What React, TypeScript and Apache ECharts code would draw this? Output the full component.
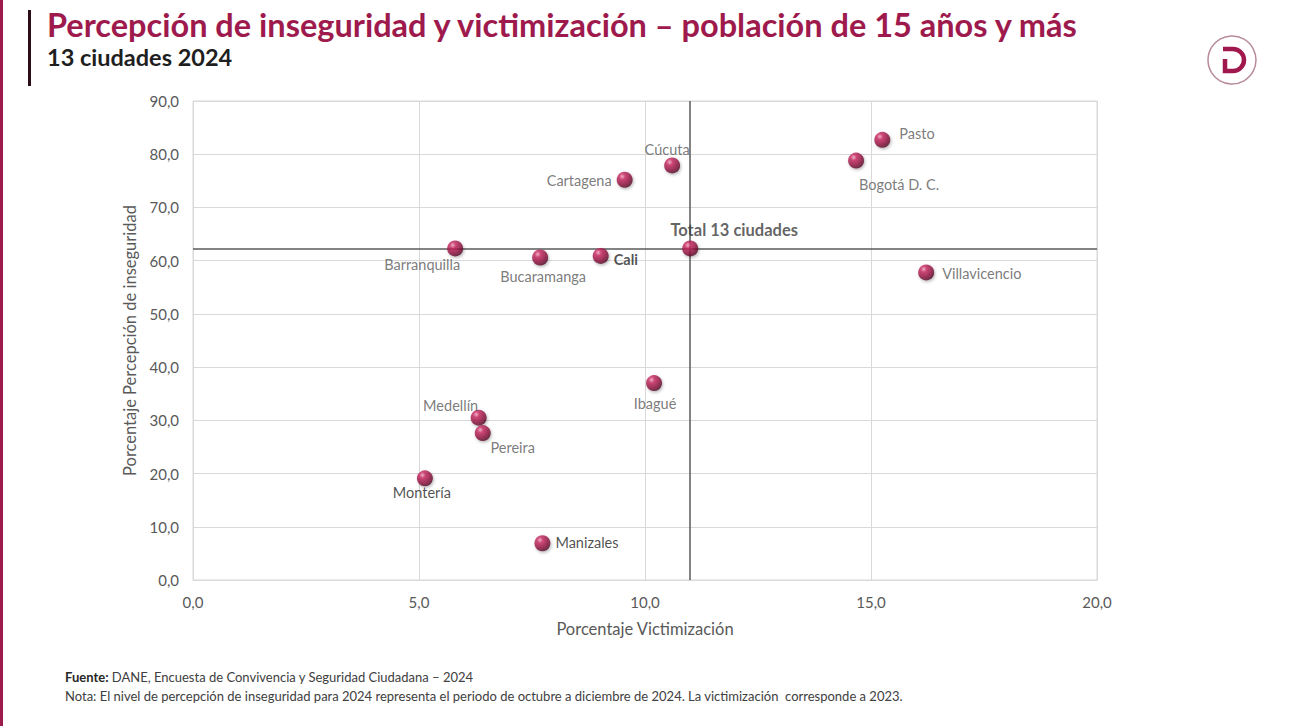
import React, { useEffect, useRef } from "react";
import * as echarts from "echarts";

const cities = [
  "Pasto", "Bogotá D. C.", "Cúcuta", "Cartagena", "Total 13 ciudades", "Barranquilla",
  "Bucaramanga", "Cali", "Villavicencio", "Ibagué", "Medellín", "Pereira", "Montería", "Manizales",
];
const victimizacion = [15.25, 14.67, 10.6, 9.55, 11.0, 5.8, 7.68, 9.02, 16.22, 10.2, 6.32, 6.41, 5.13, 7.73];
const percepcion = [82.7, 78.8, 77.9, 75.2, 62.3, 62.3, 60.6, 60.9, 57.8, 37.0, 30.5, 27.6, 19.1, 6.9];
const xTicks = [0, 5, 10, 15, 20];
const yTicks = [0, 10, 20, 30, 40, 50, 60, 70, 80, 90];
const totalName = "Total 13 ciudades";

const FONT = "Lato, 'Noto Sans', sans-serif";
const MAROON = "#9e1a4d";

const labelCfg: Record<string, any> = {
  "Pasto": { position: "right", offset: [4, -6] },
  "Bogotá D. C.": { position: "bottom", offset: [43, 3] },
  "Cúcuta": { position: "top", offset: [-5, 5] },
  "Cartagena": { position: "left", offset: [0, 1] },
  "Total 13 ciudades": { position: "top", offset: [44, 3], fontWeight: "bold", color: "#3a3a3a", fontSize: 16.5 },
  "Barranquilla": { position: "bottom", offset: [-33, -4] },
  "Bucaramanga": { position: "bottom", offset: [3, -1] },
  "Cali": { position: "right", offset: [0, 4], fontWeight: "bold", color: "#262626" },
  "Villavicencio": { position: "right", offset: [3, 1] },
  "Ibagué": { position: "bottom", offset: [1, 0] },
  "Medellín": { position: "top", offset: [-28, 8] },
  "Pereira": { position: "bottom", offset: [30, -6] },
  "Montería": { position: "bottom", offset: [-3, -6], color: "#1f1f1f" },
  "Manizales": { position: "right", offset: [0, -1], color: "#1f1f1f" },
};

const fmt = (v: number) => v.toFixed(1).replace(".", ",");

const logoD = "M1 1 L11 1 A11 11 0 0 1 11 23 L3 23 L3 11";

export default function App() {
  const ref = useRef<HTMLDivElement>(null);
  useEffect(() => {
    if (!ref.current) return;
    echarts.graphic.registerShape("logoD", echarts.graphic.extendPath(logoD, {}) as any);
    const chart = echarts.init(ref.current, null, { renderer: "svg" });
    const sphere = new echarts.graphic.RadialGradient(0.35, 0.3, 0.75, [
      { offset: 0, color: "#f4a6c4" },
      { offset: 0.25, color: "#c8275f" },
      { offset: 0.7, color: "#8a0f3c" },
      { offset: 1, color: "#4a0620" },
    ]);
    const data = cities.map((c, i) => {
      const l = labelCfg[c] || {};
      return {
        name: c,
        value: [victimizacion[i], percepcion[i]],
        label: {
          show: true,
          formatter: c,
          position: l.position,
          offset: l.offset,
          distance: 5,
          fontSize: l.fontSize || 14.5,
          fontWeight: l.fontWeight || "normal",
          color: l.color || "#595959",
          fontFamily: FONT,
        },
      };
    });
    const ti = cities.indexOf(totalName);
    chart.setOption({
      animation: false,
      grid: { left: 193, top: 101, width: 904, height: 479, show: true, borderColor: "#d9d9d9", borderWidth: 1 },
      xAxis: {
        type: "value",
        min: xTicks[0],
        max: xTicks[xTicks.length - 1],
        interval: xTicks[1] - xTicks[0],
        name: "Porcentaje Victimización",
        nameLocation: "middle",
        nameGap: 40,
        nameTextStyle: { fontSize: 16.5, color: "#595959", fontFamily: FONT },
        axisLine: { lineStyle: { color: "#d9d9d9" } },
        axisTick: { show: false },
        splitLine: { lineStyle: { color: "#d9d9d9" } },
        axisLabel: { formatter: fmt, fontSize: 15, color: "#595959", fontFamily: FONT, margin: 14 },
      },
      yAxis: {
        type: "value",
        min: yTicks[0],
        max: yTicks[yTicks.length - 1],
        interval: yTicks[1] - yTicks[0],
        name: "Porcentaje Percepción de inseguridad",
        nameLocation: "middle",
        nameGap: 54,
        nameTextStyle: { fontSize: 16.5, color: "#595959", fontFamily: FONT },
        axisLine: { show: true, lineStyle: { color: "#d9d9d9" } },
        axisTick: { show: false },
        splitLine: { lineStyle: { color: "#d9d9d9" } },
        axisLabel: { formatter: fmt, fontSize: 15, color: "#595959", fontFamily: FONT, margin: 14 },
      },
      series: [
        {
          type: "scatter",
          symbolSize: 16,
          data,
          itemStyle: { color: sphere, shadowColor: "rgba(0,0,0,0.35)", shadowBlur: 3, shadowOffsetX: 1, shadowOffsetY: 1.5 },
          z: 5,
          markLine: {
            silent: true,
            symbol: "none",
            label: { show: false },
            lineStyle: { color: "#5a5a5a", width: 1.5, type: "solid" },
            data: [{ xAxis: victimizacion[ti] }, { yAxis: percepcion[ti] }],
          },
        },
      ],
      graphic: [
        { type: "rect", left: 0, top: 0, shape: { width: 3, height: 726 }, style: { fill: MAROON } },
        { type: "rect", left: 28, top: 10, shape: { width: 3, height: 76 }, style: { fill: "#2a0d18" } },
        {
          type: "text", left: 47, top: 8,
          style: { text: "Percepción de inseguridad y victimización – población de 15 años y más", fontSize: 32.5, fontWeight: "bold", fill: MAROON, fontFamily: FONT },
        },
        {
          type: "text", left: 47, top: 45,
          style: { text: "13 ciudades 2024", fontSize: 23.5, fontWeight: "bold", fill: "#1f1f1f", fontFamily: FONT },
        },
        { type: "circle", shape: { cx: 1232, cy: 60, r: 24 }, style: { fill: "#fff", stroke: "#b98a9c", lineWidth: 1.5 } },
        { type: "logoD", x: 1222, y: 48, style: { fill: "none", stroke: "#a0184e", lineWidth: 4.5 } },
        {
          type: "text", left: 65, top: 670,
          style: {
            text: "{b|Fuente:} DANE, Encuesta de Convivencia y Seguridad Ciudadana – 2024",
            fontSize: 13, fill: "#404040", fontFamily: FONT,
            rich: { b: { fontWeight: "bold", fontSize: 13, fill: "#262626", fontFamily: FONT } },
          },
        },
        {
          type: "text", left: 65, top: 689,
          style: {
            text: "Nota: El nivel de percepción de inseguridad para 2024 representa el periodo de octubre a diciembre de 2024. La victimización  corresponde a 2023.",
            fontSize: 13, fill: "#404040", fontFamily: FONT,
          },
        },
      ],
    });
    return () => chart.dispose();
  }, []);
  return <div ref={ref} style={{ position: "fixed", left: 0, top: 0, width: 1294, height: 726, background: "#fff" }} />;
}
